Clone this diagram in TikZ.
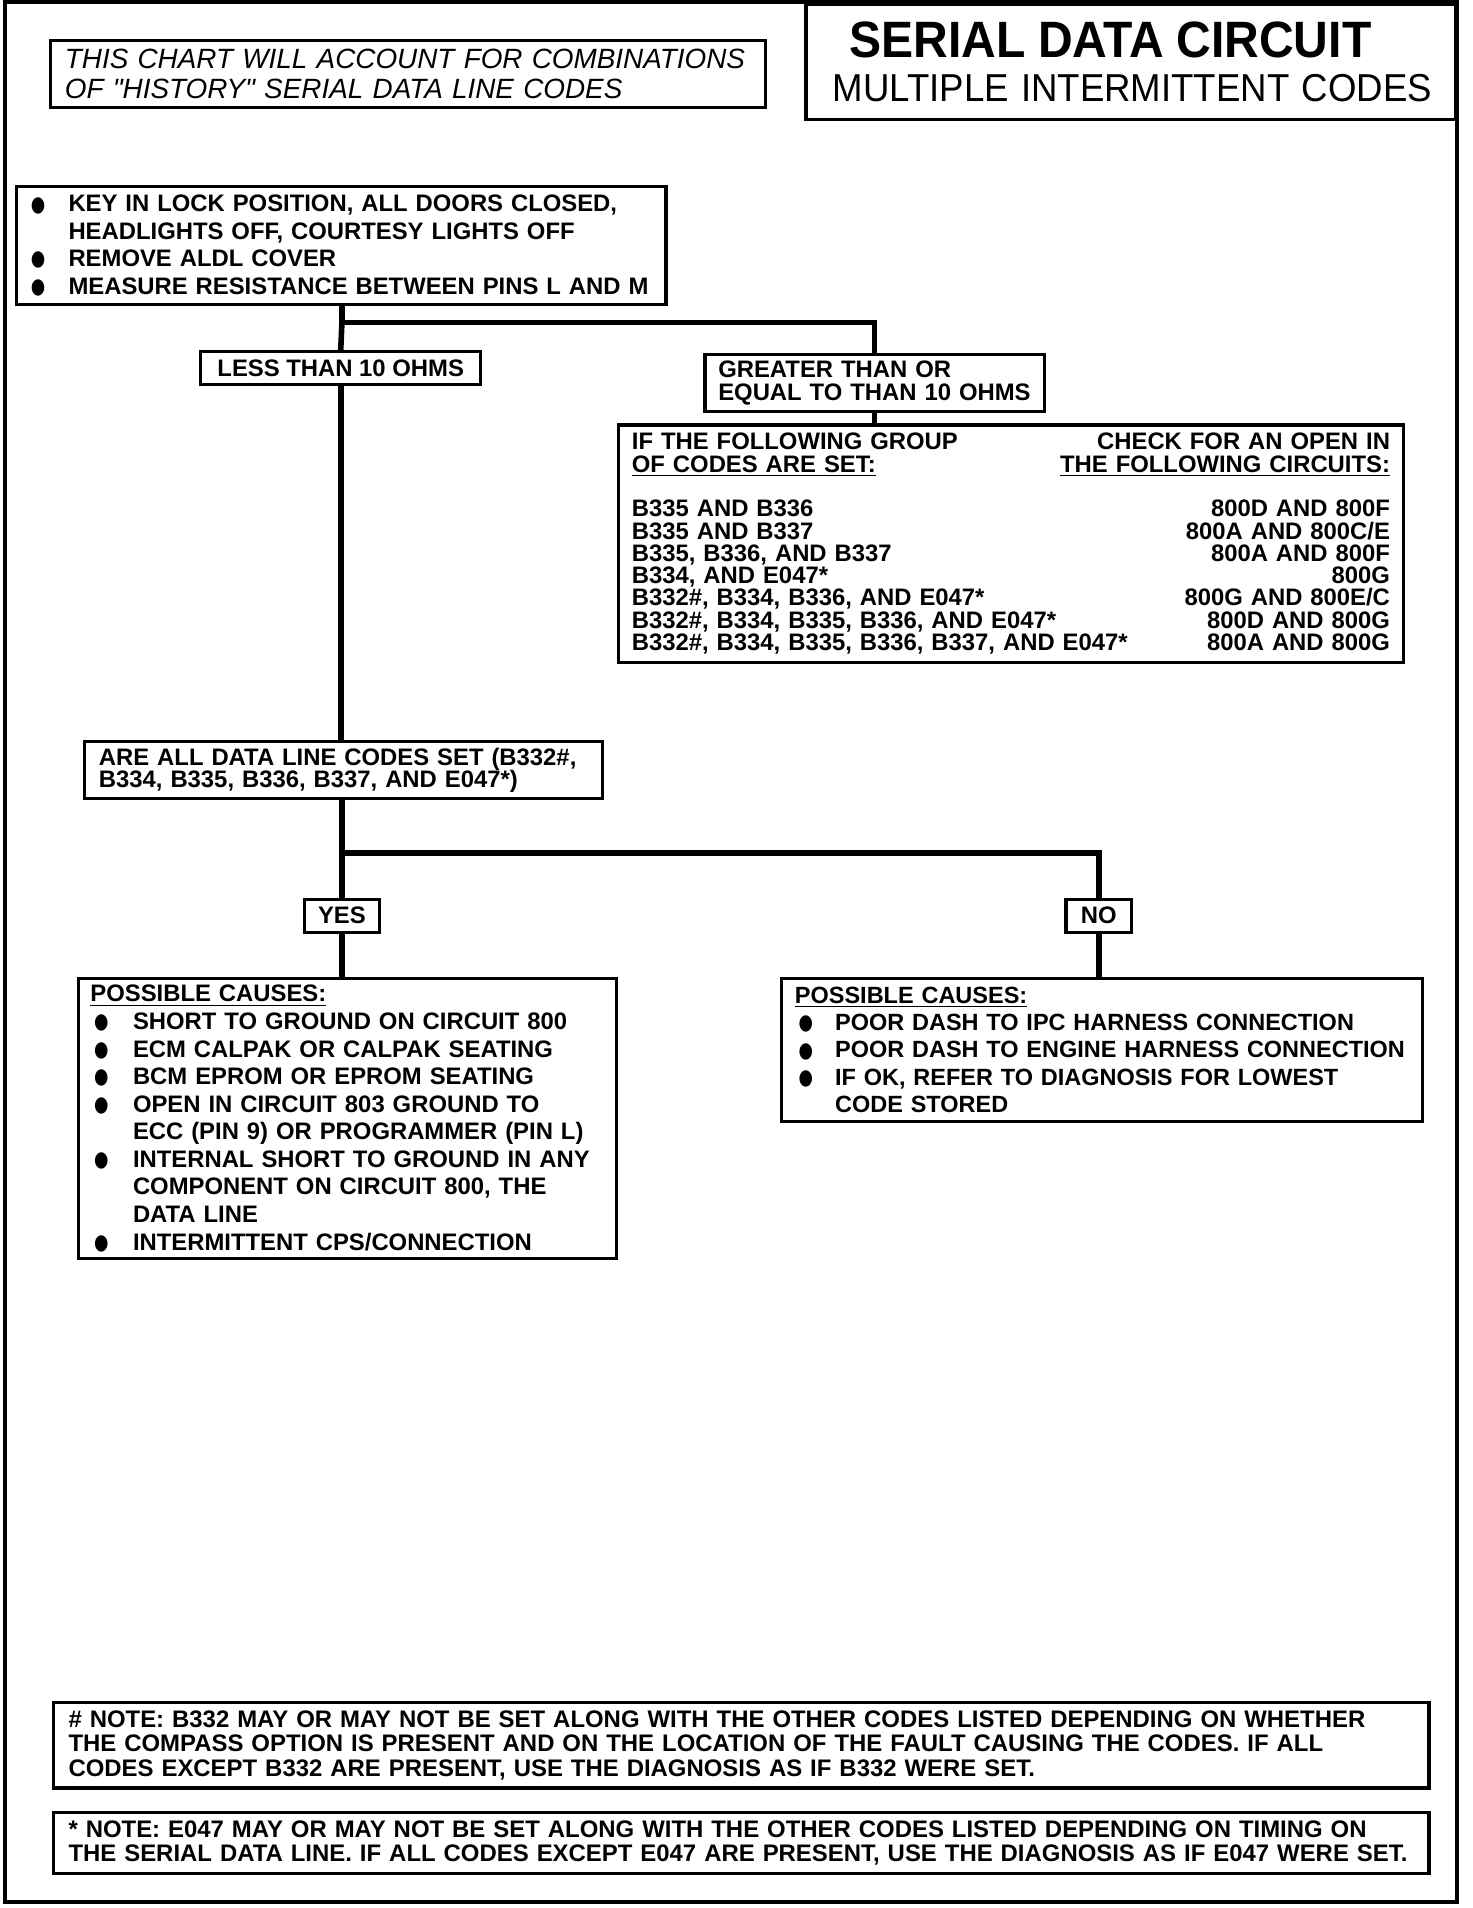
\documentclass[tikz,border=0pt]{standalone}
\usepackage{fontspec}
\usepackage{graphicx}
\setmainfont{Liberation Sans}
\newfontfamily\dotfont{DejaVu Sans}
\hyphenpenalty=10000
\exhyphenpenalty=10000

\newcommand{\chartfont}[1]{\fontsize{9.8}{#1}\selectfont\bfseries\lineskiplimit=-10pt\relax}
\newcommand{\dotmark}[1][15.5pt]{\makebox[#1][l]{\raisebox{0.3pt}{\dotfont\fontsize{8}{8}\selectfont\scalebox{0.85}[1.1]{●}}}}
\newcommand{\causemark}{\hspace*{1.5pt}\dotmark[16pt]}
\newcommand{\pushright}{\hskip 0pt plus 1fill\relax}

\begin{document}
\begin{tikzpicture}[x=0.5pt, y=-0.5pt,
  box/.style={draw, line width=1.3pt, fill=white, anchor=north west, align=left,
    inner xsep=6pt, inner ysep=0pt, font=\chartfont{11.25pt}},
  tag/.style={draw, line width=1.3pt, fill=white, inner sep=0pt, font=\chartfont{11pt}},
  link/.style={line width=2.3pt}]
\useasboundingbox (0,0) rectangle (1210,1568);
\draw[line width=1.6pt] (4,2) rectangle (1197,1563);

% heading
\node[box, text width=245pt, minimum height=47.5pt, inner xsep=11pt, font=\fontsize{16}{18}\selectfont] (title) at (661,2)
  {\hspace*{7pt}\scalebox{0.94}[1]{\fontsize{21}{21}\selectfont\bfseries SERIAL DATA CIRCUIT}\\
   \scalebox{0.94}[1]{MULTIPLE INTERMITTENT CODES}};
\node[box, text width=282pt, minimum height=27.5pt, font=\fontsize{11.45}{12.5}\selectfont\itshape] (scope) at (40,32)
  {THIS CHART WILL ACCOUNT FOR COMBINATIONS\\OF \textquotedbl HISTORY\textquotedbl\ SERIAL DATA LINE CODES};

% first test and its two outcomes
\node[box, text width=255pt, minimum height=48.5pt] (check) at (12,152)
  {\dotmark KEY IN LOCK POSITION, ALL DOORS CLOSED,\\
   \hspace*{15.5pt}HEADLIGHTS OFF, COURTESY LIGHTS OFF\\
   \dotmark REMOVE ALDL COVER\\
   \dotmark MEASURE RESISTANCE BETWEEN PINS L AND M};
\node[tag, minimum width=115pt, minimum height=13.5pt] (low) at (280,302.5) {LESS THAN 10 OHMS};
\node[box, text width=128.5pt, inner xsep=5.5pt, minimum height=23.5pt, font=\chartfont{9.4pt}] (high) at (578,290)
  {GREATER THAN OR\\EQUAL TO THAN 10 OHMS};
\node[box, text width=311.5pt, inner xsep=5.5pt, minimum height=97.5pt, font=\chartfont{9.15pt}] (codes) at (507,348)
  {IF THE FOLLOWING GROUP\pushright CHECK FOR AN OPEN IN\\
   \underline{OF CODES ARE SET:}\pushright\underline{THE FOLLOWING CIRCUITS:}\\[9.15pt]
   B335 AND B336\pushright 800D AND 800F\\
   B335 AND B337\pushright 800A AND 800C/E\\
   B335, B336, AND B337\pushright 800A AND 800F\\
   B334, AND E047*\pushright 800G\\
   B332\#, B334, B336, AND E047*\pushright 800G AND 800E/C\\
   B332\#, B334, B335, B336, AND E047*\pushright 800D AND 800G\\
   B332\#, B334, B335, B336, B337, AND E047*\pushright 800A AND 800G};

% second test
\node[box, text width=201pt, minimum height=23.5pt, font=\chartfont{9pt}] (allset) at (68,608)
  {ARE ALL DATA LINE CODES SET (B332\#,\\B334, B335, B336, B337, AND E047*)};
\node[tag, minimum width=31pt, minimum height=13.5pt] (yes) at (281,752.5) {YES};
\node[tag, minimum width=27pt, minimum height=13.5pt] (no) at (903,752.5) {NO};
\node[box, text width=211pt, inner xsep=5pt, minimum height=115pt, font=\chartfont{11.33pt}] (causeyes) at (63,803)
  {\underline{POSSIBLE CAUSES:}\\
   \causemark SHORT TO GROUND ON CIRCUIT 800\\
   \causemark ECM CALPAK OR CALPAK SEATING\\
   \causemark BCM EPROM OR EPROM SEATING\\
   \causemark OPEN IN CIRCUIT 803 GROUND TO\\
   \hspace*{17.5pt}ECC (PIN 9) OR PROGRAMMER (PIN L)\\
   \causemark INTERNAL SHORT TO GROUND IN ANY\\
   \hspace*{17.5pt}COMPONENT ON CIRCUIT 800, THE\\
   \hspace*{17.5pt}DATA LINE\\
   \causemark INTERMITTENT CPS/CONNECTION};
\node[box, text width=253.5pt, inner xsep=5pt, minimum height=58.5pt, font=\fontsize{9.65}{11.25}\selectfont\bfseries] (causeno) at (641,803)
  {\hspace*{0.5pt}\underline{POSSIBLE CAUSES:}\\
   \hspace*{2pt}\dotmark[15pt]POOR DASH TO IPC HARNESS CONNECTION\\
   \hspace*{2pt}\dotmark[15pt]POOR DASH TO ENGINE HARNESS CONNECTION\\
   \hspace*{2pt}\dotmark[15pt]IF OK, REFER TO DIAGNOSIS FOR LOWEST\\
   \hspace*{17pt}CODE STORED};

% footnotes
\node[box, text width=553pt, minimum height=35pt, font=\fontsize{9.83}{10}\selectfont\bfseries] (noteb) at (43,1398)
  {\# NOTE: B332 MAY OR MAY NOT BE SET ALONG WITH THE OTHER CODES LISTED DEPENDING ON WHETHER\\
   THE COMPASS OPTION IS PRESENT AND ON THE LOCATION OF THE FAULT CAUSING THE CODES. IF ALL\\
   CODES EXCEPT B332 ARE PRESENT, USE THE DIAGNOSIS AS IF B332 WERE SET.};
\node[box, text width=553pt, minimum height=25pt, font=\fontsize{9.83}{10}\selectfont\bfseries] (notee) at (43,1488)
  {* NOTE: E047 MAY OR MAY NOT BE SET ALONG WITH THE OTHER CODES LISTED DEPENDING ON TIMING ON\\
   THE SERIAL DATA LINE. IF ALL CODES EXCEPT E047 ARE PRESENT, USE THE DIAGNOSIS AS IF E047 WERE SET.};

\coordinate (split) at (281,265);
\coordinate (fork) at (281,701);
\draw[link] (check.south -| split) -- (split) -| (high.north);
\draw[link] (split) -- (low.north);
\draw[link] (low.south) -- (low.south |- allset.north);
\draw[link] (high.south) -- (high.south |- codes.north);
\draw[link] (allset.south -| fork) -- (fork) -| (no.north);
\draw[link] (fork) -- (yes.north);
\draw[link] (yes.south) -- (yes.south |- causeyes.north);
\draw[link] (no.south) -- (no.south |- causeno.north);
\end{tikzpicture}
\end{document}
